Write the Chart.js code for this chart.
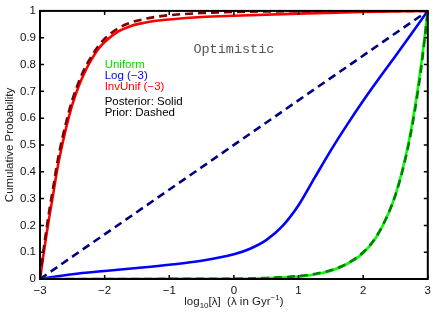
<!DOCTYPE html>
<html>
<head>
<meta charset="utf-8">
<script src="https://cdn.jsdelivr.net/npm/chart.js@4/dist/chart.umd.min.js"></script>
<style>
  html, body { margin: 0; padding: 0; background: #fff; }
  #wrap { width: 436px; height: 316px; }
</style>
</head>
<body>
<div id="wrap"><canvas id="chart" width="436" height="316"></canvas></div>
<script>
// axis ticks
var xTicks = [-3, -2, -1, 0, 1, 2, 3];
var xTickLabels = ["\u22123", "\u22122", "\u22121", "0", "1", "2", "3"];
var yTicks = [0, 0.1, 0.2, 0.3, 0.4, 0.5, 0.6, 0.7, 0.8, 0.9, 1];
var yTickLabels = ["0", "0.1", "0.2", "0.3", "0.4", "0.5", "0.6", "0.7", "0.8", "0.9", "1"];

// InvUnif (-3)
var invUnifPostX = [-3, -2.95, -2.9, -2.85, -2.8, -2.75, -2.7, -2.6, -2.5, -2.4, -2.3, -2.2, -2.1, -2.0, -1.8, -1.6, -1.4, -1.2, -1.0, -0.5, 0, 1, 2, 3];
var invUnifPostY = [0, 0.085, 0.165, 0.24, 0.31, 0.385, 0.45, 0.56, 0.65, 0.72, 0.775, 0.82, 0.857, 0.884, 0.922, 0.943, 0.955, 0.963, 0.968, 0.977, 0.982, 0.99, 0.996, 1];
var invUnifPriorX = [-3, -2.95, -2.9, -2.85, -2.8, -2.75, -2.7, -2.6, -2.5, -2.4, -2.3, -2.2, -2.1, -2.0, -1.8, -1.6, -1.4, -1.2, -1.0, -0.5, 0, 1, 3];
var invUnifPriorY = [0, 0.1, 0.185, 0.265, 0.335, 0.41, 0.475, 0.58, 0.668, 0.735, 0.79, 0.832, 0.868, 0.896, 0.934, 0.956, 0.969, 0.978, 0.984, 0.992, 0.996, 0.999, 1];

// Log (-3)
var logPostX = [-3, -2.5, -2, -1.5, -1, -0.5, 0, 0.25, 0.5, 0.75, 1, 1.25, 1.5, 1.75, 2, 2.25, 2.5, 2.75, 3];
var logPostY = [0, 0.018, 0.03, 0.041, 0.053, 0.068, 0.092, 0.113, 0.145, 0.197, 0.275, 0.378, 0.48, 0.575, 0.665, 0.75, 0.832, 0.916, 1];
var logPriorX = [-3, 3];
var logPriorY = [0, 1];

// Uniform
var unifPostX = [-3, -1, 0, 0.5, 1, 1.25, 1.5, 1.75, 2, 2.2, 2.4, 2.5, 2.6, 2.7, 2.8, 2.9, 3];
var unifPostY = [0, 0.0005, 0.001, 0.003, 0.009, 0.017, 0.031, 0.056, 0.097, 0.155, 0.25, 0.315, 0.4, 0.505, 0.64, 0.805, 1];
var unifPriorX = [-3, 0, 0.5, 1, 1.25, 1.5, 1.75, 2, 2.2, 2.4, 2.5, 2.6, 2.7, 2.8, 2.9, 3];
var unifPriorY = [0, 0.001, 0.004, 0.011, 0.019, 0.033, 0.057, 0.1, 0.157, 0.25, 0.314, 0.396, 0.498, 0.628, 0.79, 1];

var legendLines = [
  { text: "Uniform", color: "#00e000", y: 0.8 },
  { text: "Log (\u22123)", color: "#0000ff", y: 0.758 },
  { text: "InvUnif (\u22123)", color: "#ff0000", y: 0.717 },
  { text: "Posterior: Solid", color: "#000000", y: 0.659 },
  { text: "Prior: Dashed", color: "#000000", y: 0.618 }
];

function pts(xs, ys) {
  return xs.map(function(x, i) { return { x: x, y: ys[i] }; });
}

function line(label, xs, ys, color, dashed) {
  return {
    label: label,
    data: pts(xs, ys),
    borderColor: color,
    borderWidth: 2.6,
    borderDash: dashed ? [8, 5] : [],
    pointRadius: 0,
    fill: false,
    cubicInterpolationMode: "monotone",
    order: dashed ? 0 : 1
  };
}

var FONT = "'Liberation Sans', Arial, Helvetica, sans-serif";

var decorations = {
  id: "decorations",
  afterDatasetsDraw: function(chart) {
    var ctx = chart.ctx, a = chart.chartArea, xs = chart.scales.x, ys = chart.scales.y;
    ctx.save();
    // inside ticks on all four sides
    ctx.strokeStyle = "#000";
    ctx.lineWidth = 1.5;
    ctx.beginPath();
    xTicks.forEach(function(v) {
      var px = xs.getPixelForValue(v);
      ctx.moveTo(px, a.bottom); ctx.lineTo(px, a.bottom - 4);
      ctx.moveTo(px, a.top); ctx.lineTo(px, a.top + 4);
    });
    yTicks.forEach(function(v) {
      var py = ys.getPixelForValue(v);
      ctx.moveTo(a.left, py); ctx.lineTo(a.left + 4, py);
      ctx.moveTo(a.right, py); ctx.lineTo(a.right - 4, py);
    });
    ctx.stroke();
    // box
    ctx.lineWidth = 2;
    ctx.strokeRect(a.left, a.top, a.right - a.left, a.bottom - a.top);

    // annotation texts
    ctx.textBaseline = "middle";
    ctx.textAlign = "center";
    ctx.fillStyle = "#555";
    ctx.font = "13.5px 'Liberation Mono', 'DejaVu Sans Mono', monospace";
    ctx.fillText("Optimistic", xs.getPixelForValue(0), ys.getPixelForValue(0.855));

    ctx.textAlign = "left";
    ctx.font = "11.5px " + FONT;
    legendLines.forEach(function(l) {
      ctx.fillStyle = l.color;
      ctx.fillText(l.text, xs.getPixelForValue(-2), ys.getPixelForValue(l.y));
    });

    // y axis title
    ctx.fillStyle = "#222";
    ctx.save();
    ctx.translate(10, (a.top + a.bottom) / 2);
    ctx.rotate(-Math.PI / 2);
    ctx.textAlign = "center";
    ctx.font = "11.5px " + FONT;
    ctx.fillText("Cumulative Probability", 0, 0);
    ctx.restore();

    // x axis title with sub/superscript
    var parts = [
      { t: "log", f: 11.5, dy: 0 },
      { t: "10", f: 8, dy: 3 },
      { t: "[\u03bb]  (\u03bb in Gyr", f: 11.5, dy: 0 },
      { t: "\u22121", f: 8, dy: -5 },
      { t: ")", f: 11.5, dy: 0 }
    ];
    var total = 0;
    parts.forEach(function(p) { ctx.font = p.f + "px " + FONT; p.w = ctx.measureText(p.t).width; total += p.w; });
    var x0 = (a.left + a.right) / 2 - total / 2, base = 305;
    ctx.textAlign = "left";
    ctx.textBaseline = "alphabetic";
    parts.forEach(function(p) {
      ctx.font = p.f + "px " + FONT;
      ctx.fillText(p.t, x0, base + p.dy);
      x0 += p.w;
    });
    ctx.restore();
  }
};

var ctx = document.getElementById("chart");
var myChart = new Chart(ctx, {
  type: "line",
  data: {
    datasets: [
      line("Uniform posterior", unifPostX, unifPostY, "#00ff00", false),
      line("Log posterior", logPostX, logPostY, "#0000ff", false),
      line("InvUnif posterior", invUnifPostX, invUnifPostY, "#ff0000", false),
      line("Uniform prior", unifPriorX, unifPriorY, "#008000", true),
      line("Log prior", logPriorX, logPriorY, "#000080", true),
      line("InvUnif prior", invUnifPriorX, invUnifPriorY, "#800000", true)
    ]
  },
  options: {
    responsive: false,
    animation: false,
    layout: { padding: { top: 10, right: 8, left: 0, bottom: 0 } },
    plugins: {
      legend: { display: false },
      tooltip: { enabled: false }
    },
    scales: {
      x: {
        type: "linear",
        min: -3,
        max: 3,
        afterBuildTicks: function(scale) {
          scale.ticks = xTicks.map(function(v) { return { value: v }; });
        },
        afterFit: function(scale) { scale.height = 37; },
        grid: { drawOnChartArea: false, drawTicks: false },
        border: { display: false },
        ticks: {
          padding: 5,
          color: "#111",
          maxRotation: 0,
          font: { family: FONT, size: 11.5 },
          callback: function(v) { return xTickLabels[xTicks.indexOf(v)]; }
        }
      },
      y: {
        type: "linear",
        min: 0,
        max: 1,
        afterBuildTicks: function(scale) {
          scale.ticks = yTicks.map(function(v) { return { value: v }; });
        },
        afterFit: function(scale) { scale.width = 40; },
        grid: { drawOnChartArea: false, drawTicks: false },
        border: { display: false },
        ticks: {
          padding: 4,
          color: "#111",
          font: { family: FONT, size: 11.5 },
          callback: function(v) { return yTickLabels[yTicks.indexOf(v)]; }
        }
      }
    }
  },
  plugins: [decorations]
});
</script>
</body>
</html>
